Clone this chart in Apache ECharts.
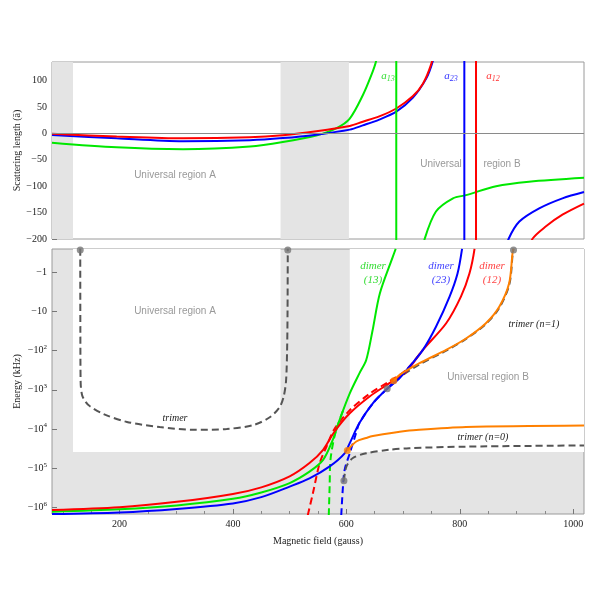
<!DOCTYPE html>
<html>
<head>
<meta charset="utf-8">
<script src="https://cdn.jsdelivr.net/npm/echarts@6/dist/echarts.min.js"></script>
<style>
  html, body { margin: 0; padding: 0; background: #fff; }
  #chart { width: 597px; height: 606px; }
</style>
</head>
<body>
<div id="chart"></div>
<script>
// top panel: scattering lengths vs magnetic field (G), split at the resonance
const a12Low = [[81,-1],[195,-6],[312,-9.5],[430,-7.5],[488,-3.5],[547,4],[606,14],[629,22],[658,32],[688,47],[717,70],[735,94],[749,129],[757,165],[764,210]]
const a12High = [[918,-235],[928,-200],[952,-176],[981,-154],[1019,-133]]
const a23Low = [[81,-3],[195,-9.5],[312,-15],[430,-13],[488,-9],[547,-2.5],[606,7],[629,15],[658,26],[688,41],[717,67],[741,104],[752,135],[758,165]]
const a23High = [[878,-230],[886,-200],[905,-167],[940,-142],[981,-123],[1019,-111]]
const a13Low = [[81,-17.7],[195,-26.5],[312,-30],[430,-25],[488,-16.5],[547,-4],[582,9.5],[606,28],[629,72],[644,110],[652,135],[657,165]]
const a13High = [[731,-240],[738,-200],[758,-148],[788,-123],[811,-117],[864,-100],[922,-91.5],[1019,-84]]
const resonances = [688, 808, 828.6]

// bottom panel: energies as log10(|E| / kHz)
const dimer12 = [[81,6.07],[200,6.0],[301,5.86],[400,5.66],[450,5.49],[500,5.21],[535,4.87],[559,4.53],[579,4.07],[606,3.6],[641,3.17],[676,2.83],[705,2.54],[735,1.98],[776,1.3],[802,0.62],[817,0.03],[826,-0.6]]
const dimer23 = [[81,6.17],[200,6.13],[301,6.04],[400,5.9],[450,5.74],[500,5.47],[535,5.26],[570,4.96],[597,4.62],[606,4.36],[623,3.85],[647,3.34],[670,3.0],[694,2.7],[711,2.41],[735,1.98],[758,1.39],[782,0.62],[796,0.03],[804,-0.6]]
const dimer13 = [[81,6.11],[200,6.05],[301,5.95],[400,5.78],[450,5.62],[500,5.38],[535,5.09],[559,4.79],[576,4.28],[588,3.77],[606,3.09],[623,2.58],[635,2.24],[646,1.5],[659,0.54],[682,-0.4],[687,-0.6]]
const dimer12Univ = [[532,6.2],[541,5.64],[553,4.87],[565,4.45],[579,4.0],[606,3.52],[641,3.1],[676,2.78],[705,2.5],[735,1.98]]
const dimer23Univ = [[591,6.2],[594,5.47],[597,5.04],[606,4.62],[617,4.11],[623,3.85],[647,3.34],[672,2.97],[694,2.7]]
const dimer13Univ = [[569,6.2],[570.5,5.47],[572,4.79],[579,4.19],[588,3.77],[595,3.5]]
const trimerA = [[130.8,-0.6],[131,1.5],[131.5,2.8],[134,3.13],[140,3.3],[148,3.42],[172,3.62],[213,3.82],[271,3.95],[330,4.02],[389,4.0],[436,3.9],[465,3.7],[482,3.45],[489,3.2],[493.5,2.8],[495.5,2.0],[496.3,1.0],[496.7,-0.6]]
const trimer1 = [[683.6,2.77],[694,2.62],[729,2.32],[776,1.98],[811,1.69],[846,1.3],[869.6,0.88],[887,0.28],[893,-0.49],[894.7,-0.6]]
const trimer1Univ = [[672,2.97],[690,2.72],[729,2.35],[776,2.0],[811,1.7],[846,1.32],[870,0.9],[887.5,0.3],[893.3,-0.48],[894.7,-0.6]]
const trimer0 = [[601.7,4.55],[617.5,4.32],[635,4.23],[646.7,4.18],[694,4.07],[711,4.04],[811,3.95],[1019,3.91]]
const trimer0Univ = [[595.7,5.32],[600,4.96],[611.5,4.74],[635,4.62],[676,4.53],[711,4.49],[811,4.45],[1019,4.42]]
const grayDots = [[130.8,-0.57],[496.7,-0.57],[595.7,5.32],[672,2.97],[894.7,-0.57]]
const orangeDots = [[601.7,4.55],[683.6,2.77]]

// ticks
const fieldTicks = [200, 400, 600, 800, 1000]
const fieldMinor = [100, 150, 250, 300, 350, 450, 500, 550, 650, 700, 750, 850, 900, 950]
const lengthTicks = [-200, -150, -100, -50, 0, 50, 100]
const lengthMinor = [-190,-180,-170,-160,-140,-130,-120,-110,-90,-80,-70,-60,-40,-30,-20,-10,10,20,30,40,60,70,80,90,110,120,130]
const energyTicks = [0, 1, 2, 3, 4, 5, 6]

const SERIF = '"Liberation Serif", "Times New Roman", serif'
const SANS = '"Liberation Sans", Arial, sans-serif'
const RED = '#ff0000', BLUE = '#0000ff', GREEN = '#00e800', ORANGE = '#ff8000', DARK = '#555555'
const BAND = '#e4e4e4'

const chart = echarts.init(document.getElementById('chart'))

const curve = (data, color, xi, yi, dashed, z) => ({
  type: 'line',
  data,
  xAxisIndex: xi,
  yAxisIndex: yi,
  showSymbol: false,
  smooth: 0.3,
  silent: true,
  z: z || 3,
  lineStyle: { color, width: 2, type: dashed ? [7, 4] : 'solid' }
})

const tickLabel = { fontFamily: SERIF, fontSize: 10, color: '#222' }
const noLine = { show: false, onZero: false }

const energyLabel = v => {
  if (v === 0) return '−1'
  if (v === 1) return '−10'
  return '−10{s|' + v + '}'
}

const text = (x, y, str, opts) => ({
  type: 'text',
  x, y,
  silent: true,
  z: 100,
  style: Object.assign({
    text: str,
    align: 'center',
    verticalAlign: 'middle',
    fontFamily: SERIF,
    fontSize: 11,
    fill: '#333'
  }, opts || {})
})

const sub = (base, idx, color, x, y) => text(x, y, '{a|' + base + '}{s|' + idx + '}', {
  fill: color,
  rich: {
    a: { fontFamily: SERIF, fontStyle: 'italic', fontSize: 11, fill: color, lineHeight: 14 },
    s: { fontFamily: SERIF, fontStyle: 'italic', fontSize: 8, fill: color, lineHeight: 14, padding: [6, 0, 0, 0] }
  }
})

const axisName = { fontFamily: SERIF, fontSize: 10, color: '#222' }

const option = {
  animation: false,
  backgroundColor: '#fff',
  grid: [
    { left: 52, top: 62, width: 532, height: 177, show: true, borderColor: '#9a9a9a', borderWidth: 1, backgroundColor: '#fff' },
    { left: 52, top: 249, width: 532, height: 265, show: true, borderColor: '#9a9a9a', borderWidth: 1, backgroundColor: BAND }
  ],
  xAxis: [
    { gridIndex: 0, type: 'value', min: 81, max: 1019, axisLine: noLine, axisTick: { show: false }, axisLabel: { show: false }, splitLine: { show: false } },
    {
      gridIndex: 1, type: 'value', min: 81, max: 1019, position: 'bottom',
      name: 'Magnetic field (gauss)', nameLocation: 'middle', nameGap: 22, nameMoveOverlap: false,
      nameTextStyle: axisName,
      axisLine: noLine,
      axisTick: { inside: true, length: 5, customValues: fieldTicks, lineStyle: { color: '#777' } },
      axisLabel: Object.assign({ customValues: fieldTicks, margin: 5, formatter: v => String(v) }, tickLabel),
      splitLine: { show: false }
    },
    {
      gridIndex: 1, type: 'value', min: 81, max: 1019, position: 'bottom',
      axisLine: noLine,
      axisTick: { inside: true, length: 3, customValues: fieldMinor, lineStyle: { color: '#888' } },
      axisLabel: { show: false, customValues: fieldMinor },
      splitLine: { show: false }
    }
  ],
  yAxis: [
    {
      gridIndex: 0, type: 'value', min: -200, max: 135, position: 'left',
      name: 'Scattering length (ā)', nameLocation: 'middle', nameGap: 30, nameMoveOverlap: false,
      nameTextStyle: axisName,
      axisLine: noLine,
      axisTick: { inside: true, length: 5, customValues: lengthTicks, lineStyle: { color: '#777' } },
      axisLabel: Object.assign({ customValues: lengthTicks, margin: 5, formatter: v => (v < 0 ? '−' + (-v) : '' + v) }, tickLabel),
      splitLine: { show: false }
    },
    {
      gridIndex: 0, type: 'value', min: -200, max: 135, position: 'left',
      axisLine: noLine,
      axisTick: { inside: true, length: 3, customValues: lengthMinor, lineStyle: { color: '#888' } },
      axisLabel: { show: false, customValues: lengthMinor },
      splitLine: { show: false }
    },
    {
      gridIndex: 1, type: 'value', min: -0.595, max: 6.17, inverse: true, position: 'left',
      name: 'Energy (kHz)', nameLocation: 'middle', nameGap: 30, nameMoveOverlap: false,
      nameTextStyle: axisName,
      axisLine: noLine,
      axisTick: { inside: true, length: 5, customValues: energyTicks, lineStyle: { color: '#777' } },
      axisLabel: Object.assign({
        customValues: energyTicks, margin: 5, formatter: energyLabel,
        rich: { s: { fontFamily: SERIF, fontSize: 7, color: '#222', padding: [0, 0, 7, 0] } }
      }, tickLabel),
      splitLine: { show: false }
    }
  ],
  series: [
    // shaded bands, top panel
    {
      type: 'line', data: [], xAxisIndex: 0, yAxisIndex: 0, z: 1, silent: true,
      markArea: {
        silent: true,
        label: { show: false },
        itemStyle: { color: BAND },
        data: [
          [{ xAxis: 81, yAxis: -200 }, { xAxis: 118, yAxis: 135 }],
          [{ xAxis: 484, yAxis: -200 }, { xAxis: 604.5, yAxis: 135 }]
        ]
      },
      markLine: {
        silent: true, symbol: 'none', label: { show: false },
        lineStyle: { color: '#8a8a8a', width: 1, type: 'solid' },
        data: [{ yAxis: 0 }]
      }
    },
    // white universal regions, bottom panel
    {
      type: 'line', data: [], xAxisIndex: 1, yAxisIndex: 2, z: 1, silent: true,
      markArea: {
        silent: true,
        label: { show: false },
        itemStyle: { color: '#fff' },
        data: [
          [{ xAxis: 118, yAxis: -0.595 }, { xAxis: 484, yAxis: 4.59 }],
          [{ xAxis: 606, yAxis: -0.595 }, { xAxis: 1019, yAxis: 4.59 }]
        ]
      }
    },
    curve(a13Low, GREEN, 0, 0),
    curve(a13High, GREEN, 0, 0),
    curve(a23Low, BLUE, 0, 0),
    curve(a23High, BLUE, 0, 0),
    curve(a12Low, RED, 0, 0),
    curve(a12High, RED, 0, 0),
    curve([[resonances[0], -300], [resonances[0], 300]], GREEN, 0, 0),
    curve([[resonances[1], -300], [resonances[1], 300]], BLUE, 0, 0),
    curve([[resonances[2], -300], [resonances[2], 300]], RED, 0, 0),

    curve(trimerA, DARK, 1, 2, true),
    curve(trimer0Univ, DARK, 1, 2, true),
    curve(trimer1Univ, DARK, 1, 2, true, 2),
    curve(dimer12Univ, RED, 1, 2, true, 2),
    curve(dimer13Univ, GREEN, 1, 2, true, 2),
    curve(dimer23Univ, BLUE, 1, 2, true, 2),
    curve(dimer13, GREEN, 1, 2),
    curve(dimer12, RED, 1, 2),
    curve(dimer23, BLUE, 1, 2),
    curve(trimer0, ORANGE, 1, 2, false, 4),
    curve(trimer1, ORANGE, 1, 2, false, 4),
    {
      type: 'scatter', data: grayDots, xAxisIndex: 1, yAxisIndex: 2, symbolSize: 7, z: 6, silent: true,
      clip: false, itemStyle: { color: '#777' }
    },
    {
      type: 'scatter', data: orangeDots, xAxisIndex: 1, yAxisIndex: 2, symbolSize: 7, z: 6, silent: true,
      clip: false, itemStyle: { color: ORANGE }
    }
  ],
  graphic: [
    text(175, 175, 'Universal region A', { fontFamily: SANS, fontSize: 10, fill: '#999' }),
    text(441, 164, 'Universal', { fontFamily: SANS, fontSize: 10, fill: '#999' }),
    text(502, 164, 'region B', { fontFamily: SANS, fontSize: 10, fill: '#999' }),
    sub('a', '13', '#33dd33', 388, 76),
    sub('a', '23', '#3333ff', 451, 76),
    sub('a', '12', '#ff3333', 493, 76),
    text(175, 311, 'Universal region A', { fontFamily: SANS, fontSize: 10, fill: '#999' }),
    text(488, 377, 'Universal region B', { fontFamily: SANS, fontSize: 10, fill: '#999' }),
    text(373, 266, 'dimer', { fontStyle: 'italic', fill: '#33dd33' }),
    text(373, 280, '(13)', { fontStyle: 'italic', fill: '#33dd33' }),
    text(441, 266, 'dimer', { fontStyle: 'italic', fill: '#4444ff' }),
    text(441, 280, '(23)', { fontStyle: 'italic', fill: '#4444ff' }),
    text(492, 266, 'dimer', { fontStyle: 'italic', fill: '#ff4444' }),
    text(492, 280, '(12)', { fontStyle: 'italic', fill: '#ff4444' }),
    text(534, 324, 'trimer (n=1)', { fontStyle: 'italic', fontSize: 10, fill: '#222' }),
    text(483, 437, 'trimer (n=0)', { fontStyle: 'italic', fontSize: 10, fill: '#222' }),
    text(175, 418, 'trimer', { fontStyle: 'italic', fontSize: 10, fill: '#222' })
  ]
}

chart.setOption(option)
</script>
</body>
</html>
